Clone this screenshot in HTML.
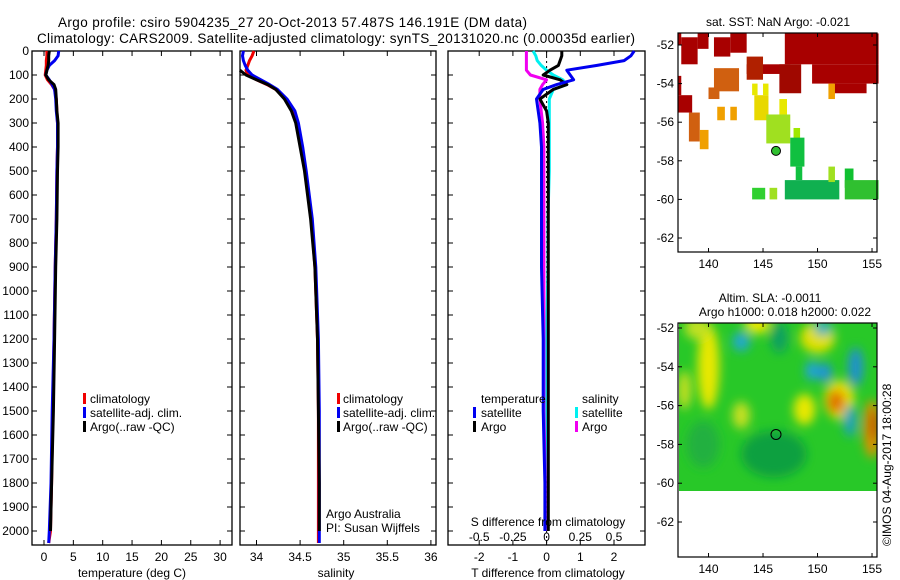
<!DOCTYPE html>
<html><head><meta charset="utf-8"><style>
html,body{margin:0;padding:0;background:#fff}
svg{display:block;font-family:"Liberation Sans",sans-serif}
</style></head><body>
<svg id="c" width="900" height="580" viewBox="0 0 900 580" xmlns="http://www.w3.org/2000/svg">
<defs>
<filter id="blur" x="-20%" y="-20%" width="140%" height="140%"><feGaussianBlur stdDeviation="5"/></filter>
<clipPath id="clipB"><rect x="679" y="323" width="198" height="168"/></clipPath>
</defs>
<text x="58" y="27" font-size="13.5" textLength="469">Argo profile: csiro 5904235_27 20-Oct-2013 57.487S 146.191E (DM data)</text>
<text x="37" y="43" font-size="13.5" textLength="598">Climatology: CARS2009. Satellite-adjusted climatology: synTS_20131020.nc (0.00035d earlier)</text>
<g id="g"></g>
</svg>
<script>
// ---- data ----
const depthTicks=[0,100,200,300,400,500,600,700,800,900,1000,1100,1200,1300,1400,1500,1600,1700,1800,1900,2000];
const tempTicks=[0,5,10,15,20,25,30];
const salTicks=[34,34.5,35,35.5,36];
const tdTicks=[-2,-1,0,1,2];
const sdTicks=[-0.5,-0.25,0,0.25,0.5];
const depths=[0,20,40,60,80,100,120,140,160,200,250,300,400,500,700,900,1200,1500,1800,2000,2050];
const tempClim=[0.5,0.5,0.4,0.4,0.3,0.2,0.6,1.3,1.8,2.1,2.2,2.3,2.3,2.2,2.1,1.9,1.7,1.5,1.3,1.1,0.8];
const tempSat=[2.5,2.4,1.8,0.9,0.5,0.3,0.9,1.4,1.8,2.0,2.1,2.3,2.3,2.2,2.1,1.9,1.7,1.4,1.2,0.9,0.8];
const tempArgo=[0.9,0.8,0.8,0.7,0.5,0.3,0.8,1.7,2.0,2.1,2.2,2.4,2.4,2.3,2.2,2.0,1.8,1.6,1.3,1.1,null];
const salClim=[33.97,33.95,33.92,33.9,33.88,33.9,34.0,34.12,34.22,34.34,34.42,34.46,34.52,34.56,34.63,34.67,34.70,34.71,34.71,34.71,34.71];
const salSat=[33.85,33.84,33.85,33.87,33.9,33.95,34.05,34.15,34.24,34.35,34.44,34.48,34.53,34.57,34.64,34.68,34.71,34.72,34.72,34.72,34.72];
const salArgo=[null,null,null,null,33.81,33.88,34.0,34.13,34.22,34.32,34.40,34.45,34.50,34.55,34.62,34.67,34.70,34.71,34.72,34.72,null];
const tdSat=[2.6,2.5,2.3,1.5,0.6,0.7,0.8,0.3,-0.1,-0.3,-0.25,-0.2,-0.15,-0.15,-0.15,-0.15,-0.1,-0.1,-0.05,-0.05,null];
const tdArgo=[0.45,0.45,0.4,0.35,0.1,-0.1,0.4,0.6,0.2,-0.2,0.0,0.05,0.05,0.05,0.05,0.05,0.05,0.05,0.05,0.05,null];
const sdSat=[-0.1,-0.08,-0.07,-0.04,0.0,0.05,0.12,0.15,0.05,0.02,0.02,0.02,0.02,0.02,0.01,0.01,0.0,0.0,-0.01,-0.01,null];
const sdArgo=[-0.15,-0.15,-0.15,-0.15,-0.15,-0.12,0.0,-0.03,-0.05,-0.05,-0.04,-0.03,-0.02,-0.02,-0.02,-0.02,-0.02,-0.02,-0.01,-0.01,null];
const lonTicks=[140,145,150,155];
const latTicks=[-52,-54,-56,-58,-60,-62];
const sstBlocks=[
[147.0,-51.4,155.6,-53.0,"#a80000"],[149.5,-53.0,155.6,-54.0,"#a80000"],[151.5,-54.0,154.5,-54.5,"#a80000"],
[143.5,-53.0,147.5,-53.5,"#a80000"],[146.5,-53.0,148.5,-54.5,"#a00800"],[137.5,-51.6,139.0,-53.0,"#a80000"],
[139.0,-51.4,140.0,-52.2,"#a80000"],[140.5,-51.6,142.0,-52.6,"#a80000"],[142.0,-51.4,143.5,-52.4,"#a80000"],
[137.2,-51.4,137.5,-52.0,"#a80000"],[137.2,-53.6,137.5,-54.6,"#a80000"],[137.2,-54.6,138.5,-55.5,"#a80000"],
[143.5,-52.6,145.0,-53.8,"#b02000"],[140.5,-53.2,142.8,-54.4,"#d06010"],[140.0,-54.2,141.0,-54.8,"#d06010"],
[138.2,-55.5,139.2,-57.0,"#d06010"],[139.2,-56.4,140.0,-57.4,"#f0a000"],[140.8,-55.2,141.5,-55.9,"#f0a000"],
[142.0,-55.2,142.6,-55.9,"#f0a000"],[151.0,-54.0,151.6,-54.8,"#f0a000"],[144.0,-54.0,144.5,-54.6,"#e8e800"],
[145.0,-54.0,145.5,-54.6,"#e8e800"],[144.2,-54.6,145.5,-55.9,"#e8d800"],[146.5,-54.8,147.2,-55.6,"#e8e800"],
[145.3,-55.6,147.5,-57.1,"#a0e020"],[147.8,-56.3,148.4,-57.0,"#a0e800"],[147.5,-56.8,148.8,-58.3,"#10c040"],
[148.0,-58.3,148.6,-59.0,"#10c040"],[147.0,-59.0,152.0,-60.0,"#10b050"],[151.0,-58.3,151.6,-59.1,"#a0e020"],
[152.5,-58.4,153.3,-59.4,"#10c030"],[152.5,-59.0,155.6,-60.0,"#30c030"],[144.0,-59.4,145.2,-60.0,"#30d030"],[145.6,-59.4,146.3,-60.0,"#a0e020"]
];
const slaBlobs=[
[140.0,-54.0,1.0,2.2,"#e8e800"],[139.0,-52.0,1.2,0.6,"#c0e020"],[144.5,-51.8,1.2,0.5,"#e8e800"],
[143.0,-52.7,0.8,0.5,"#20a8d0"],[146.5,-52.5,0.8,0.8,"#10a060"],[150.0,-52.5,1.6,0.8,"#e0e000"],
[149.5,-54.2,0.6,0.5,"#20a0e0"],[150.7,-54.3,0.6,0.5,"#2090e0"],[152.0,-55.7,1.4,1.0,"#e8e000"],
[151.7,-55.8,0.8,0.6,"#e07000"],[153.5,-54.0,0.7,1.0,"#2090d0"],[155.0,-57.2,0.8,1.5,"#e09000"],
[155.2,-57.0,0.4,0.8,"#c05000"],[153.0,-56.8,0.6,0.8,"#20a0c0"],[143.0,-56.5,0.8,0.7,"#c8e020"],
[146.0,-58.5,3.0,1.2,"#10a040"],[139.5,-58.0,1.5,1.2,"#20b040"],[137.8,-55.2,0.6,1.0,"#c8e020"],
[148.8,-56.2,1.0,0.8,"#e8e800"],[150.5,-52.0,0.8,0.4,"#30b0c0"]
];
const argoLon=146.191, argoLat=-57.487;

const NS="http://www.w3.org/2000/svg";
const G=document.getElementById('g');
function mk(tag,attrs,parent){const e=document.createElementNS(NS,tag);for(const k in attrs)e.setAttribute(k,attrs[k]);(parent||G).appendChild(e);return e;}
const yD=d=>51+d*0.24;
const PT={x0:32,x1:232}, PS={x0:240,x1:436}, PD={x0:448,x1:645};
const xT=t=>44+t*5.87;
const xS=s=>256.5+(s-34)*87.2;
const xTD=v=>546.6+v*33.7;
const xSD=v=>546.6+v*134.8;
const xLon=l=>678+(l-137.2)*10.9;
const yLatA=l=>45+(-52-l)*19.3;
const yLatB=l=>328+(-52-l)*19.4;

function panel(p,name){
  const r=mk('rect',{x:p.x0,y:51,width:p.x1-p.x0,height:494,fill:'none',stroke:'#000','stroke-width':1.3});
  
  
  depthTicks.forEach(d=>{
    mk('line',{x1:p.x0,x2:p.x0+5,y1:yD(d),y2:yD(d),stroke:'#000'});
    mk('line',{x1:p.x1-5,x2:p.x1,y1:yD(d),y2:yD(d),stroke:'#000'});
  });
}
function xticks(p,ticks,fx,labY){
  ticks.forEach(t=>{
    const x=fx(t);
    mk('line',{x1:x,x2:x,y1:51,y2:56,stroke:'#000'});
    mk('line',{x1:x,x2:x,y1:540,y2:545,stroke:'#000'});
    const tx=mk('text',{x:x,y:labY,'font-size':12,'text-anchor':'middle'});
    tx.textContent=String(t);
    
    
  });
}
function line(vals,fx,color,name,w){
  let d='';let pen=false;
  vals.forEach((v,i)=>{ if(v===null){pen=false;return;} d+=(pen?'L':'M')+fx(v).toFixed(1)+','+yD(depths[i]).toFixed(1); pen=true;});
  const p=mk('path',{d:d,fill:'none',stroke:color,'stroke-width':w||3,'stroke-linejoin':'round'});
  
  
}
function txt(x,y,s,name,size,anchor){
  const t=mk('text',{x:x,y:y,'font-size':size||12,'text-anchor':anchor||'start'});
  t.textContent=s;
  
  
  return t;
}
function legendMark(x,y,c){mk('rect',{x:x,y:y-10,width:3,height:11,fill:c});}

depthTicks.forEach(d=>{
  const t=mk('text',{x:29,y:yD(d)+4,'font-size':12,'text-anchor':'end'});
  t.textContent=String(d);
  
  
});

panel(PT,'temperature-panel');
xticks(PT,tempTicks,xT,561);
line(tempClim,xT,'#f00000','temperature-climatology-line');
line(tempSat,xT,'#0000f0','temperature-satellite-line');
line(tempArgo,xT,'#000','temperature-argo-line');
txt(132,577,'temperature (deg C)','temperature-axis-title',12,'middle');
legendMark(83,403,'#f00000');txt(90,403,'climatology','legend-climatology');
legendMark(83,417,'#0000f0');txt(90,417,'satellite-adj. clim.','legend-satellite');
legendMark(83,431,'#000');txt(90,431,'Argo(..raw -QC)','legend-argo');

panel(PS,'salinity-panel');
xticks(PS,salTicks,xS,561);
line(salClim,xS,'#f00000','salinity-climatology-line');
line(salSat,xS,'#0000f0','salinity-satellite-line');
line(salArgo,xS,'#000','salinity-argo-line');
txt(336,577,'salinity','salinity-axis-title',12,'middle');
legendMark(337,403,'#f00000');txt(343,403,'climatology','legend-climatology');
legendMark(337,417,'#0000f0');txt(343,417,'satellite-adj. clim.','legend-satellite');
legendMark(337,431,'#000');txt(343,431,'Argo(..raw -QC)','legend-argo');
txt(326,518,'Argo Australia','credit-argo-australia');
txt(326,532,'PI: Susan Wijffels','credit-pi');

panel(PD,'difference-panel');
xticks(PD,tdTicks,xTD,561);
mk('line',{x1:xTD(0),x2:xTD(0),y1:51,y2:545,stroke:'#000','stroke-dasharray':'2,3'});
line(sdSat,xSD,'#00f0f0','salinity-diff-satellite-line');
line(sdArgo,xSD,'#f000f0','salinity-diff-argo-line');
line(tdArgo,xTD,'#000','temperature-diff-argo-line');
line(tdSat,xTD,'#0000f0','temperature-diff-satellite-line');
sdTicks.forEach(v=>{txt(xSD(v),541,String(v),'s-tick-label',12,'middle');});
txt(548,526,'S difference from climatology','s-axis-title',12,'middle');
txt(548,577,'T difference from climatology','t-axis-title',12,'middle');
txt(481,403,'temperature','legend-temperature-header');
txt(582,403,'salinity','legend-salinity-header');
legendMark(473,417,'#0000f0');txt(481,417,'satellite','legend-t-satellite');
legendMark(473,431,'#000');txt(481,431,'Argo','legend-t-argo');
legendMark(575,417,'#00f0f0');txt(582,417,'satellite','legend-s-satellite');
legendMark(575,431,'#f000f0');txt(582,431,'Argo','legend-s-argo');

function mapFrame(y0,y1,yLat,name){
  const r=mk('rect',{x:678,y:y0,width:199,height:y1-y0,fill:'none',stroke:'#000','stroke-width':1.2});
  
  
  lonTicks.forEach(l=>{mk('line',{x1:xLon(l),x2:xLon(l),y1:y1-4,y2:y1,stroke:'#000'});mk('line',{x1:xLon(l),x2:xLon(l),y1:y0,y2:y0+4,stroke:'#000'});
    txt(xLon(l),y1+16,String(l),'lon-tick-label',12,'middle');});
  latTicks.forEach(l=>{mk('line',{x1:873,x2:877,y1:yLat(l),y2:yLat(l),stroke:'#000'});mk('line',{x1:678,x2:682,y1:yLat(l),y2:yLat(l),stroke:'#000'});
    txt(674,yLat(l)+4,String(l),'lat-tick-label',12,'end');});
}
sstBlocks.forEach(b=>{
  const r=mk('rect',{x:xLon(b[0]),y:yLatA(b[1]),width:xLon(b[2])-xLon(b[0]),height:yLatA(b[3])-yLatA(b[1]),fill:b[4]});
  
  
});
mk('circle',{cx:xLon(argoLon),cy:yLatA(argoLat),r:4.5,fill:'#30c030',stroke:'#000'});
mapFrame(33,252,yLatA,'sst-map');
txt(778,26,'sat. SST: NaN Argo: -0.021','sst-map-title',12,'middle');

const gb=mk('g',{'clip-path':'url(#clipB)'});
mk('rect',{x:679,y:323,width:198,height:168,fill:'#28c828'},gb);
const gf=mk('g',{filter:'url(#blur)'},gb);
slaBlobs.forEach(b=>{
  const e=mk('ellipse',{cx:xLon(b[0]),cy:yLatB(b[1]),rx:b[2]*10.9,ry:b[3]*19.4,fill:b[4]},gf);
  
  
});
mk('circle',{cx:xLon(argoLon),cy:yLatB(argoLat),r:5,fill:'none',stroke:'#000'});
mapFrame(323,557,yLatB,'sla-map');
txt(770,302,'Altim. SLA: -0.0011','sla-map-title',12,'middle');
txt(785,316,'Argo h1000: 0.018 h2000: 0.022','sla-map-subtitle',12,'middle');
const st=txt(0,0,'\u00a9IMOS 04-Aug-2017 18:00:28','imos-stamp',12,'start');
st.setAttribute('transform','translate(891,546) rotate(-90)');
</script>
</body></html>
